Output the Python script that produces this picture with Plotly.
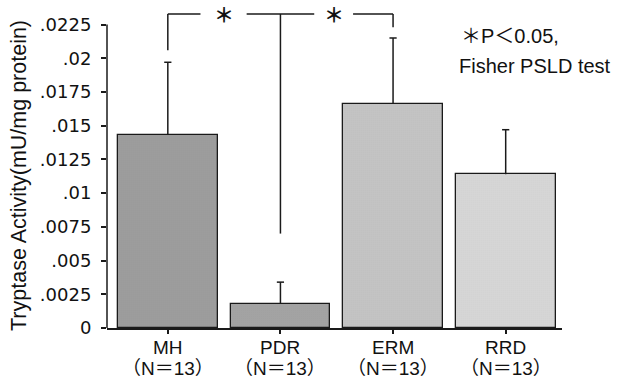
import plotly.graph_objects as go

# Tryptase activity by diagnosis group
groups = ["MH", "PDR", "ERM", "RRD"]
n_per_group = [13, 13, 13, 13]
mean_activity = [0.0143, 0.0018, 0.0166, 0.0114]
sd_activity = [0.0054, 0.0016, 0.0049, 0.0033]

tick_vals = [0, 0.0025, 0.005, 0.0075, 0.01, 0.0125, 0.015, 0.0175, 0.02, 0.0225]
tick_text = ["0", ".0025", ".005", ".0075", ".01", ".0125", ".015", ".0175", ".02", ".0225"]

# bar fills: light / dark halves of the fine halftone texture
bar_bg = ["#b0b0b0", "#b8b8b8", "#e0e0e0", "#f6f6f6"]
bar_fg = ["#7a7a7a", "#848484", "#bcbcbc", "#e0e0e0"]

# significance bracket (MH vs PDR, PDR vs ERM)
bracket_level = 0.02328
bracket_left_end = 0.0206
bracket_right_end = 0.0223
bracket_mid_end = 0.0070

FONT = "Liberation Sans, Arial, Noto Sans CJK JP, sans-serif"
TICK_FONT = "DejaVu Sans, Liberation Sans, sans-serif"
INK = "#1a1a1a"
y_top = 0.023575
cap_half = 0.032

xs = list(range(len(groups)))

fig = go.Figure()
fig.add_trace(go.Bar(
    x=xs,
    y=mean_activity,
    width=0.885,
    marker=dict(
        color=bar_bg,
        line=dict(color=INK, width=1.3),
        pattern=dict(shape=".", fgcolor=bar_fg, bgcolor=bar_bg, size=2, solidity=0.4),
    ),
    error_y=dict(type="data", array=sd_activity, arrayminus=[0] * len(sd_activity),
                 symmetric=False, color=INK, thickness=1.5, width=0),
    showlegend=False,
))

line_style = dict(color=INK, width=1.5)
shapes = [
    # left axis line, stopping at the top tick
    dict(type="line", xref="paper", yref="y", x0=0, x1=0, y0=0, y1=tick_vals[-1], line=line_style),
    # bracket verticals
    dict(type="line", xref="x", yref="y", x0=0, x1=0, y0=bracket_left_end, y1=bracket_level, line=line_style),
    dict(type="line", xref="x", yref="y", x0=1, x1=1, y0=bracket_mid_end, y1=bracket_level, line=line_style),
    dict(type="line", xref="x", yref="y", x0=2, x1=2, y0=bracket_right_end, y1=bracket_level, line=line_style),
    # bracket horizontals with gaps for the asterisks
    dict(type="line", xref="x", yref="y", x0=0, x1=0.29, y0=bracket_level, y1=bracket_level, line=line_style),
    dict(type="line", xref="x", yref="y", x0=0.70, x1=1.30, y0=bracket_level, y1=bracket_level, line=line_style),
    dict(type="line", xref="x", yref="y", x0=1.645, x1=2, y0=bracket_level, y1=bracket_level, line=line_style),
]
# caps on the upper end of each error bar only
for xi, m, s in zip(xs, mean_activity, sd_activity):
    shapes.append(dict(type="line", xref="x", yref="y", x0=xi - cap_half, x1=xi + cap_half,
                       y0=m + s, y1=m + s, line=line_style))

plot_l, plot_r, plot_t, plot_b = 107, 55, 10, 50
pw = 617 - plot_l - plot_r
ph = 378 - plot_t - plot_b


def px_to_paper(px, py):
    return (px - plot_l) / pw, (378 - py - plot_b) / ph


lx1, ly1 = px_to_paper(459, 36)
lx2, ly2 = px_to_paper(457, 66)
tx, ty = px_to_paper(19, 176)
_, name_y = px_to_paper(0, 347)
_, n_y = px_to_paper(0, 368)

star_font = dict(size=20, color="#111", family="Noto Sans CJK JP")
annotations = [
    dict(x=0.497, y=bracket_level, xref="x", yref="y", text="<b>＊</b>", showarrow=False,
         font=star_font, xanchor="center", yanchor="middle", height=18),
    dict(x=1.472, y=bracket_level, xref="x", yref="y", text="<b>＊</b>", showarrow=False,
         font=star_font, xanchor="center", yanchor="middle", height=18),
    dict(x=lx1, y=ly1, xref="paper", yref="paper", text="＊P＜0.05,", showarrow=False,
         font=dict(size=20, color="#111", family=FONT), xanchor="left", yanchor="middle"),
    dict(x=lx2, y=ly2, xref="paper", yref="paper", text="Fisher PSLD test", showarrow=False,
         font=dict(size=20, color="#111", family=FONT), xanchor="left", yanchor="middle"),
    # y axis title
    dict(x=tx, y=ty, xref="paper", yref="paper", text="Tryptase Activity(mU/mg protein)",
         textangle=-90, showarrow=False, font=dict(size=21.5, color="#111", family=FONT),
         xanchor="center", yanchor="middle"),
]
# category labels: group name and sample size on two lines
for xi, g, n in zip(xs, groups, n_per_group):
    annotations.append(dict(x=xi, y=name_y, xref="x", yref="paper", text=g, showarrow=False,
                            font=dict(size=19, color="#111", family=FONT),
                            xanchor="center", yanchor="middle"))
    annotations.append(dict(x=xi, y=n_y, xref="x", yref="paper", text=f"（N＝{n}）", showarrow=False,
                            font=dict(size=19, color="#111", family=FONT),
                            xanchor="center", yanchor="middle"))

fig.update_layout(
    width=617, height=378,
    margin=dict(l=plot_l, r=plot_r, t=plot_t, b=plot_b, autoexpand=False),
    paper_bgcolor="white", plot_bgcolor="white",
    font=dict(family=FONT, size=20, color="#111"),
    shapes=shapes,
    annotations=annotations,
    xaxis=dict(
        range=[-0.54, 3.5], tickmode="array", tickvals=xs, showticklabels=False,
        showline=True, linecolor=INK, linewidth=1.5,
        ticks="outside", ticklen=4, tickwidth=1.5, tickcolor=INK,
        showgrid=False, zeroline=False, automargin=False,
    ),
    yaxis=dict(
        range=[0, y_top], tickmode="array", tickvals=tick_vals, ticktext=tick_text,
        showline=False, ticks="outside", ticklen=5, tickwidth=1.5, tickcolor=INK,
        showgrid=False, zeroline=False, automargin=False, ticklabelstandoff=6,
        tickfont=dict(size=18, family=TICK_FONT, color="#111"),
    ),
    bargap=0,
)

fig.write_html("out.html")
